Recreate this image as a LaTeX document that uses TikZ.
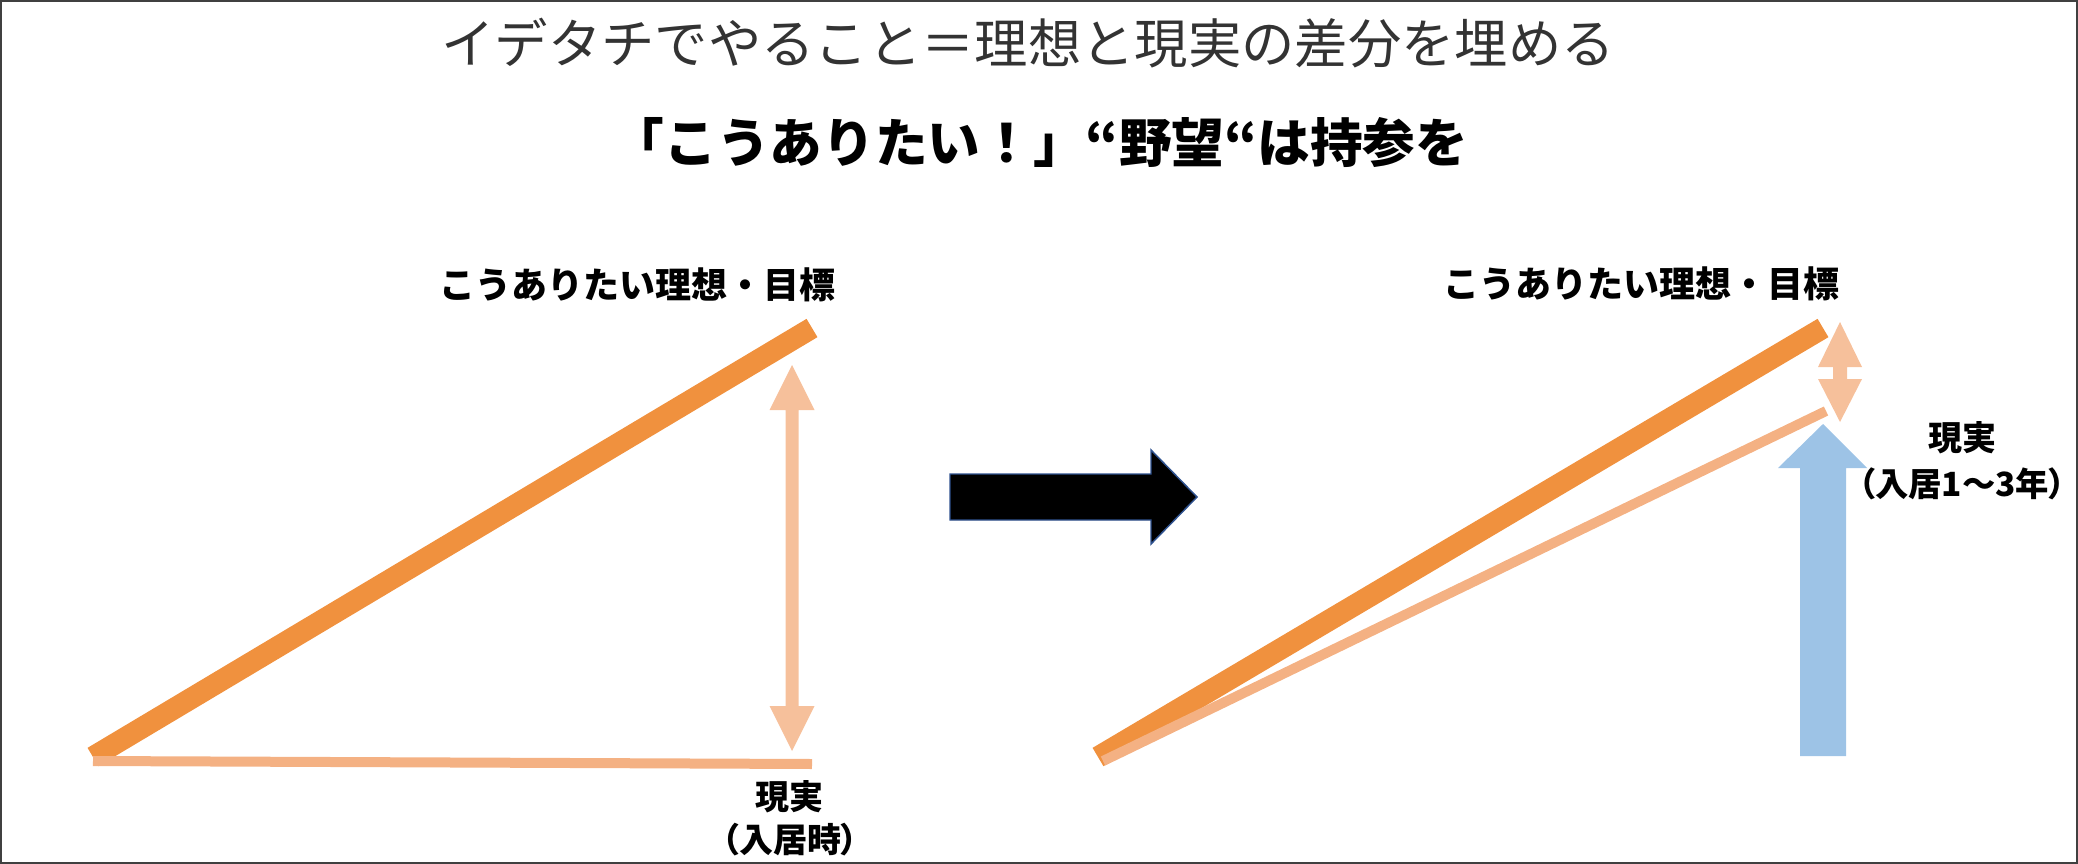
\documentclass[tikz,border=0pt]{standalone}
\usepackage{fontspec}
\setmainfont{Noto Sans CJK JP}
\newfontfamily\jpp[RawFeature=+palt]{Noto Sans CJK JP}

\definecolor{goalc}{RGB}{240,145,62}
\definecolor{realc}{RGB}{244,177,131}
\definecolor{gapc}{RGB}{246,192,155}
\definecolor{growc}{RGB}{157,195,230}
\definecolor{edgec}{RGB}{47,82,143}

\tikzset{every picture/.style={line width=0.75pt}}

\begin{document}
\begin{tikzpicture}[x=0.75pt,y=0.75pt,yscale=-1,xscale=1]
\useasboundingbox (0,0) rectangle (2078,864);
%Shape: Rectangle [id:frame] 
\draw [color=black!75, line width=1.5pt] (1,1) rectangle (2077,863) ;

%Straight Lines [id:goalL] 
\draw [color=goalc, line width=16pt]   (93,757) -- (812,328) ;
%Straight Lines [id:realL] 
\draw [color=realc, line width=7.5pt]   (93,761) -- (812,764) ;
%Shape: Up Down Arrow [id:gapL] 
\fill [color=gapc]  (792,365) -- (814.5,410) -- (798.5,410) -- (798.5,706) -- (814.5,706) -- (792,751) -- (769.5,706) -- (785.5,706) -- (785.5,410) -- (769.5,410) -- cycle ;

%Shape: Right Arrow [id:step] 
\draw [color=edgec, fill=black, line width=1.1pt]  (950,474) -- (1151,474) -- (1151,450) -- (1197,497) -- (1151,544) -- (1151,520) -- (950,520) -- cycle ;

%Straight Lines [id:goalR] 
\draw [color=goalc, line width=16pt]   (1098,757) -- (1823,328) ;
%Straight Lines [id:realR] 
\draw [color=realc, line width=7.5pt]   (1103,761) -- (1826,411) ;
%Shape: Up Down Arrow [id:gapR] 
\fill [color=gapc]  (1840,322) -- (1862,367) -- (1847,367) -- (1847,379) -- (1862,379) -- (1840,422) -- (1818,379) -- (1833,379) -- (1833,367) -- (1818,367) -- cycle ;
%Shape: Up Arrow [id:grow] 
\fill [color=growc]  (1823,424) -- (1867,468) -- (1846,468) -- (1846,756) -- (1800,756) -- (1800,468) -- (1778,468) -- cycle ;

% Text Node
\draw (1028,43) node [inner sep=0.75pt, color=black!80] (title) {\fontsize{40}{48}\selectfont イデタチでやること＝理想と現実の差分を埋める};
% Text Node
\draw (1040,143) node [inner sep=0.75pt] (motto) {\fontsize{39.5}{46}\selectfont\bfseries 「こうありたい！」“野望“は持参を};
% Text Node
\draw (637,285) node [inner sep=0.75pt] (idealL) {\fontsize{27}{32}\selectfont\bfseries こうありたい理想・目標};
% Text Node
\draw (789,797) node [inner sep=0.75pt] (nowL) {\fontsize{25.5}{30}\selectfont\bfseries 現実};
% Text Node
\draw (790,840) node [inner sep=0.75pt] (whenL) {\fontsize{25.5}{30}\selectfont\bfseries\jpp （入居時）};
% Text Node
\draw (1962,438) node [inner sep=0pt] (nowR) {\fontsize{25.5}{30}\selectfont\bfseries 現実};
% Text Node
\draw (1962,484) node [inner sep=0pt] (whenR) {\fontsize{25}{30}\selectfont\bfseries\jpp （入居1〜3年）};
% Text Node
\draw (1641,284) node [inner sep=0.75pt] (idealR) {\fontsize{27}{32}\selectfont\bfseries こうありたい理想・目標};

\end{tikzpicture}
\end{document}
